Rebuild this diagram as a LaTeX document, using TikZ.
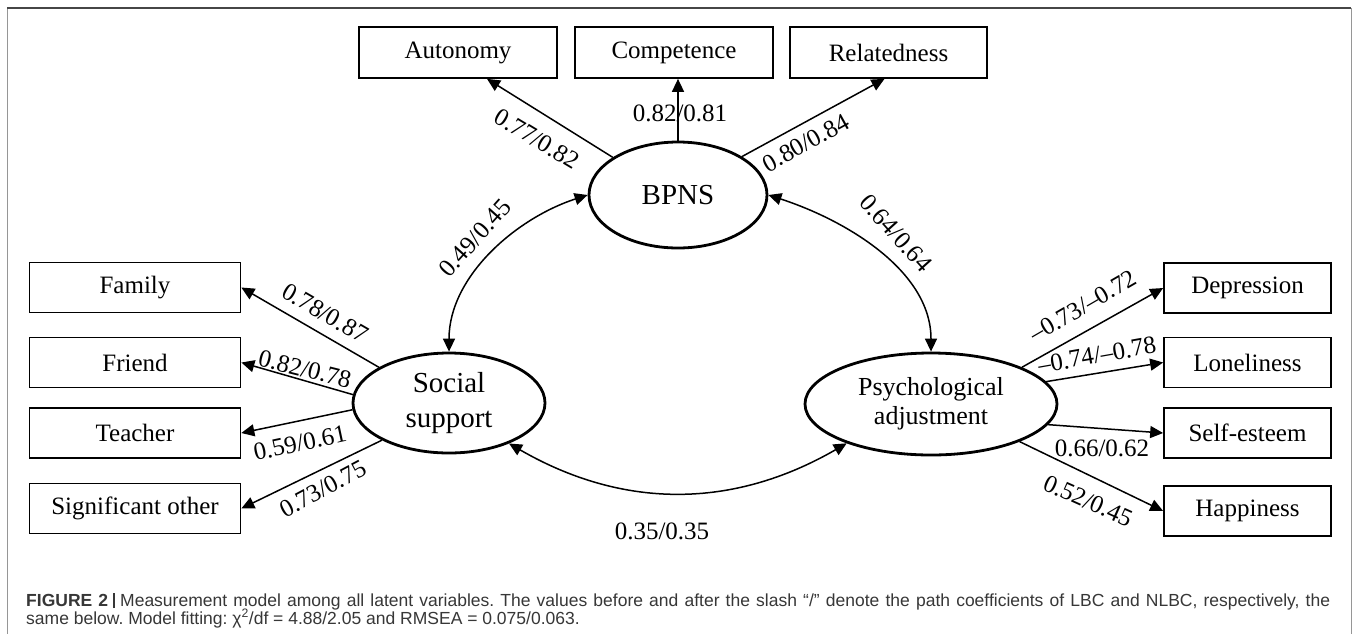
\documentclass[tikz,border=0pt]{standalone}
\usepackage{fontspec}
\setmainfont{Liberation Serif}
\newfontfamily\capfont{Liberation Sans}
\usetikzlibrary{shapes.geometric,arrows.meta,calc}
\definecolor{capgray}{RGB}{55,55,55}
\definecolor{framegray}{RGB}{150,150,150}
\definecolor{frametop}{RGB}{70,70,70}
\begin{document}
\begin{tikzpicture}[x=1pt,y=1pt,
  box/.style={draw, line width=1.7pt, minimum width=#1, minimum height=50pt, inner sep=0pt, font=\fontsize{25}{30}\selectfont},
  box/.default=198pt,
  latent/.style={draw, ellipse, line width=2.8pt, inner sep=0pt, align=center},
  arr/.style={-{Triangle[length=13pt,width=12pt]}, line width=1.5pt},
  dbl/.style={{Triangle[length=13pt,width=12pt]}-{Triangle[length=13pt,width=12pt]}, line width=1.5pt},
  lbl/.style={inner sep=0pt, font=\fontsize{25}{27}\selectfont}]
\fill[white] (0,0) rectangle (1357,-633);
\useasboundingbox (0,0) rectangle (1357,-633);
% frame
\draw[framegray, line width=1pt] (7,-640) -- (7,-8);
\draw[framegray, line width=1pt] (1351,-640) -- (1351,-8);
\draw[frametop, line width=1.2pt] (7,-8) -- (1351,-8);
% indicator boxes
\node[box=198pt, minimum height=51pt] (auto) at (458,-52.5) {Autonomy};
\node[box=198pt, minimum height=51pt] (comp) at (674,-52.5) {Competence};
\node[box=197pt, minimum height=51pt] (relat) at (888.5,-52.5) {Relatedness};
\node[box=211pt] (fam) at (135,-287.5) {Family};
\node[box=211pt] (fri) at (135,-362.5) {Friend};
\node[box=211pt] (tea) at (135,-433) {Teacher};
\node[box=211pt] (sig) at (135,-508.5) {Significant other};
\node[box=167pt] (dep) at (1247.5,-288) {Depression};
\node[box=167pt] (lon) at (1247.5,-362.5) {Loneliness};
\node[box=167pt] (self) at (1247.5,-433) {Self-esteem};
\node[box=167pt] (hap) at (1247.5,-511) {Happiness};
% latent variables
\node[latent, minimum width=178pt, minimum height=106pt, font=\fontsize{29}{32}\selectfont] (bpns) at (678,-195) {BPNS};
\node[latent, minimum width=192pt, minimum height=100pt, font=\fontsize{29}{35}\selectfont] (soc) at (449,-403) {Social\\support};
\node[latent, minimum width=252pt, minimum height=102pt, font=\fontsize{26}{29}\selectfont] (psy) at (931,-404) {Psychological\\adjustment};
% loadings
\draw[arr] (bpns.150) -- ($(auto.south)+(29,0)$);
\draw[arr] (bpns.north) -- (bpns.north |- comp.south);
\draw[arr] (bpns.31) -- ($(relat.south)+(-4,0)$);
\draw[arr] (soc.153) -- (fam.east);
\draw[arr] (soc.175) -- (fri.east);
\draw[arr] (soc.184) -- (tea.east);
\draw[arr] (soc.209) -- (sig.east);
\draw[arr] (psy.22) -- (dep.west);
\draw[arr] (psy.11) -- (lon.west);
\draw[arr] (psy.-10) -- (self.west);
\draw[arr] (psy.-23) -- (hap.west);
% correlations
\draw[dbl] (soc.north) to[out=90,in=198,looseness=0.92] (bpns.west);
\draw[dbl] (bpns.east) to[out=-18,in=90,looseness=0.92] (psy.north);
\draw[dbl] (soc.-34) to[out=-30,in=-150] (psy.205);
% labels
\node[lbl, rotate=-31] (l1) at (537,-139) {0.77/0.82};
\node[lbl] (l2) at (680,-113) {0.82/0.81};
\node[lbl, rotate=29] (l3) at (806,-143) {0.80/0.84};
\node[lbl, rotate=48] (l4) at (475,-238) {0.49/0.45};
\node[lbl, rotate=-48] (l5) at (896,-233) {0.64/0.64};
\node[lbl, rotate=-30] (l6) at (325,-313) {0.78/0.87};
\node[lbl, rotate=-14] (l7) at (305,-369) {0.82/0.78};
\node[lbl, rotate=12] (l8) at (300,-443) {0.59/0.61};
\node[lbl, rotate=28] (l9) at (323,-489) {0.73/0.75};
\node[lbl, rotate=30] (l10) at (1083,-306) {–0.73/–0.72};
\node[lbl, rotate=10] (l11) at (1097,-355) {–0.74/–0.78};
\node[lbl] (l12) at (1102,-448) {0.66/0.62};
\node[lbl, rotate=-24] (l13) at (1088,-501) {0.52/0.45};
\node[lbl] (l14) at (662,-531) {0.35/0.35};
% caption
\node[anchor=base west, inner sep=0pt, text=capgray, font=\capfont\fontsize{17.5}{19}\selectfont] (cap1) at (26,-606)
  {\frenchspacing\makebox[1304pt][s]{\textbf{FIGURE 2}\hspace{5pt}\rule[-2pt]{2pt}{15pt}\hspace{5pt}Measurement model among all latent variables. The values before and after the slash “/” denote the path coefficients of LBC and NLBC, respectively, the}};
\node[anchor=base west, inner sep=0pt, text=capgray, font=\capfont\fontsize{17.5}{19}\selectfont] (cap2) at (26,-624)
  {\frenchspacing same below. Model fitting: χ\textsuperscript{2}/df = 4.88/2.05 and RMSEA = 0.075/0.063.};
\end{tikzpicture}
\end{document}
